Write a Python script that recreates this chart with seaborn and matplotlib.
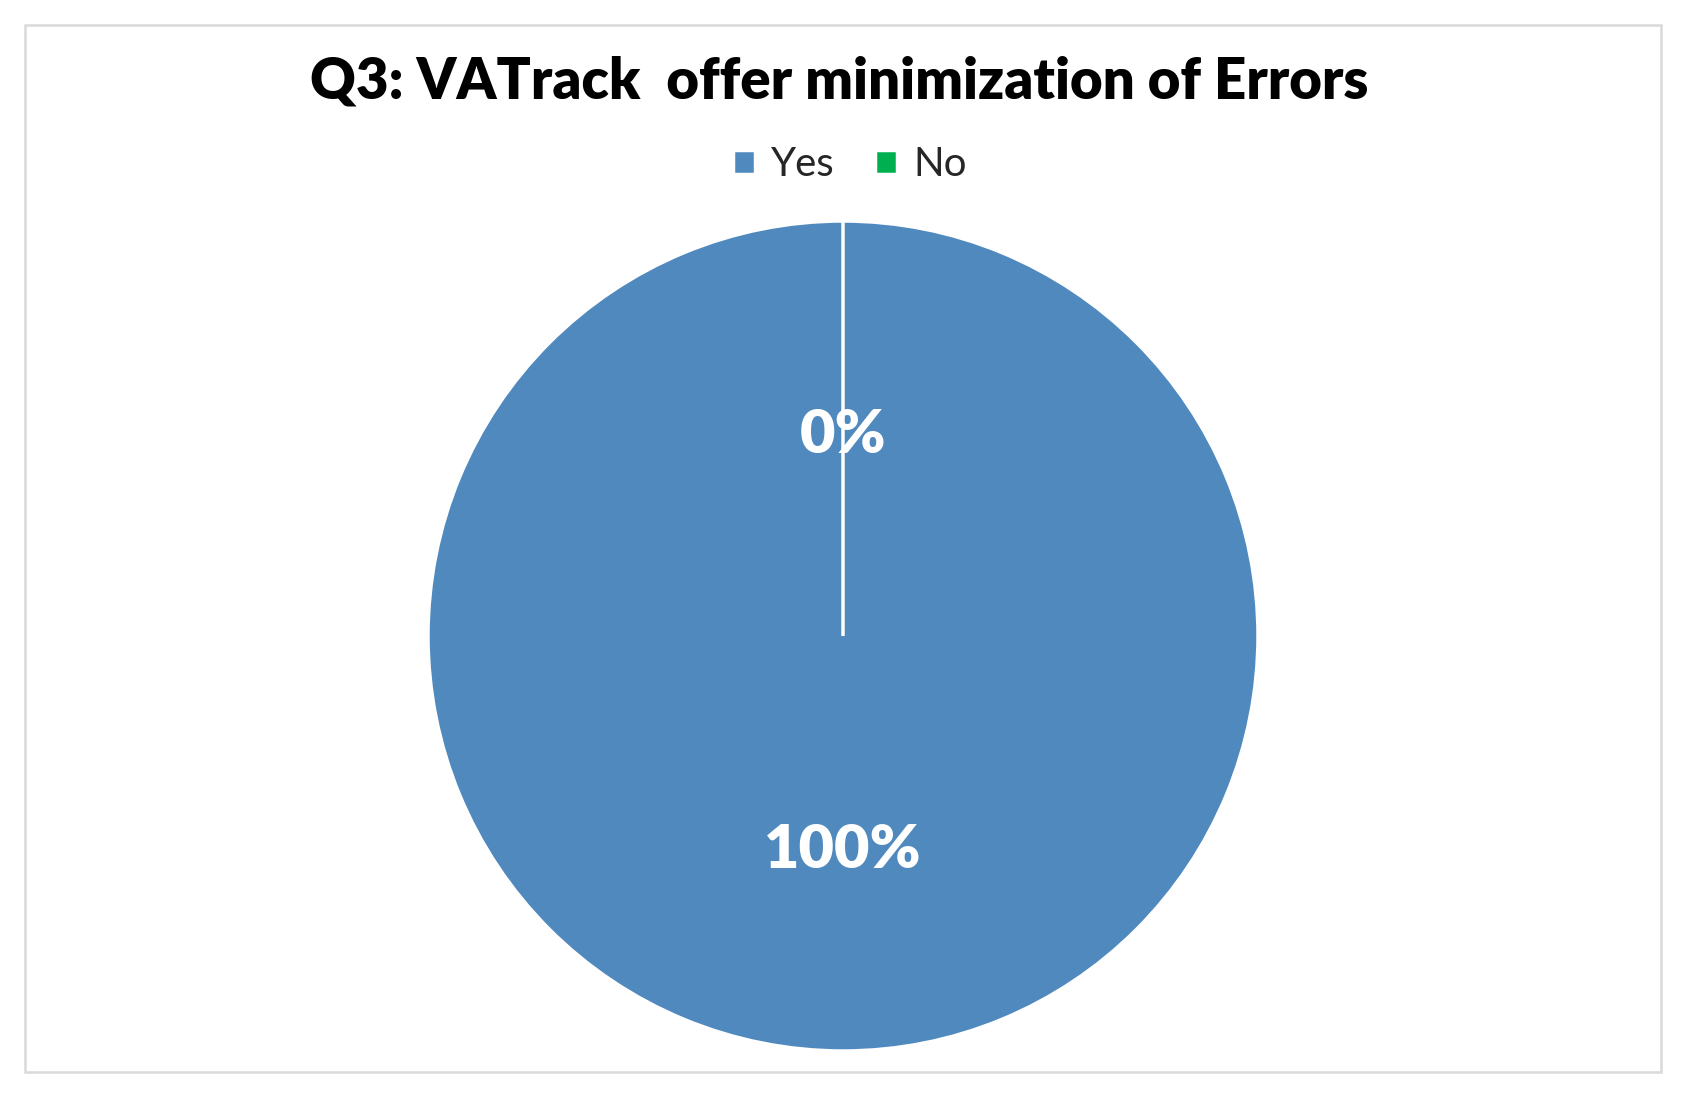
import matplotlib
matplotlib.use("Agg")
import matplotlib.pyplot as plt
import seaborn as sns
from matplotlib.patches import Rectangle

# ---- data ----
categories = ["Yes", "No"]
values = [100, 0]
colors = ["#4F89BD", "#00B050"]
title = "Q3: VATrack  offer minimization of Errors"

sns.set_theme(style="white")
plt.rcParams['font.family'] = ['Lato', 'DejaVu Sans']

W, H = 1682, 1113
fig = plt.figure(figsize=(W / 100, H / 100), dpi=100)
fig.patch.set_facecolor("white")

# outer chart border
fig.add_artist(Rectangle((25 / W, 1 - 1072 / H), (1661 - 25) / W, (1072 - 25) / H,
                         transform=fig.transFigure, fill=False,
                         edgecolor="#D9D9D9", linewidth=1.8))

cx, cy, r = 843, 636, 415
ax = fig.add_axes([(cx - r) / W, (H - cy - r) / H, 2 * r / W, 2 * r / H])
wedges, texts, autotexts = ax.pie(
    values, colors=colors, startangle=90, counterclock=False,
    autopct=lambda p: f"{p:.0f}%", pctdistance=0.5, radius=1,
    wedgeprops=dict(edgecolor="white", linewidth=2.5),
    textprops=dict(color="white", fontsize=44, fontweight="heavy"))
for t in autotexts:
    x, y = t.get_position()
    t.set_position((x, y - 0.016))
ax.set_xlim(-1, 1)
ax.set_ylim(-1, 1)
ax.set_aspect("equal")
ax.axis("off")

fig.text(839 / W, 1 - 82 / H, title, ha="center", va="center",
         fontsize=40.5, fontweight="heavy", color="black")

fig.legend(wedges, categories, loc="center", bbox_to_anchor=(850 / W, 1 - 165 / H),
           ncol=2, frameon=False, fontsize=29, handlelength=0.55, handleheight=0.55,
           handletextpad=0.4, columnspacing=1.0)

fig.savefig("out.png", dpi=100)
